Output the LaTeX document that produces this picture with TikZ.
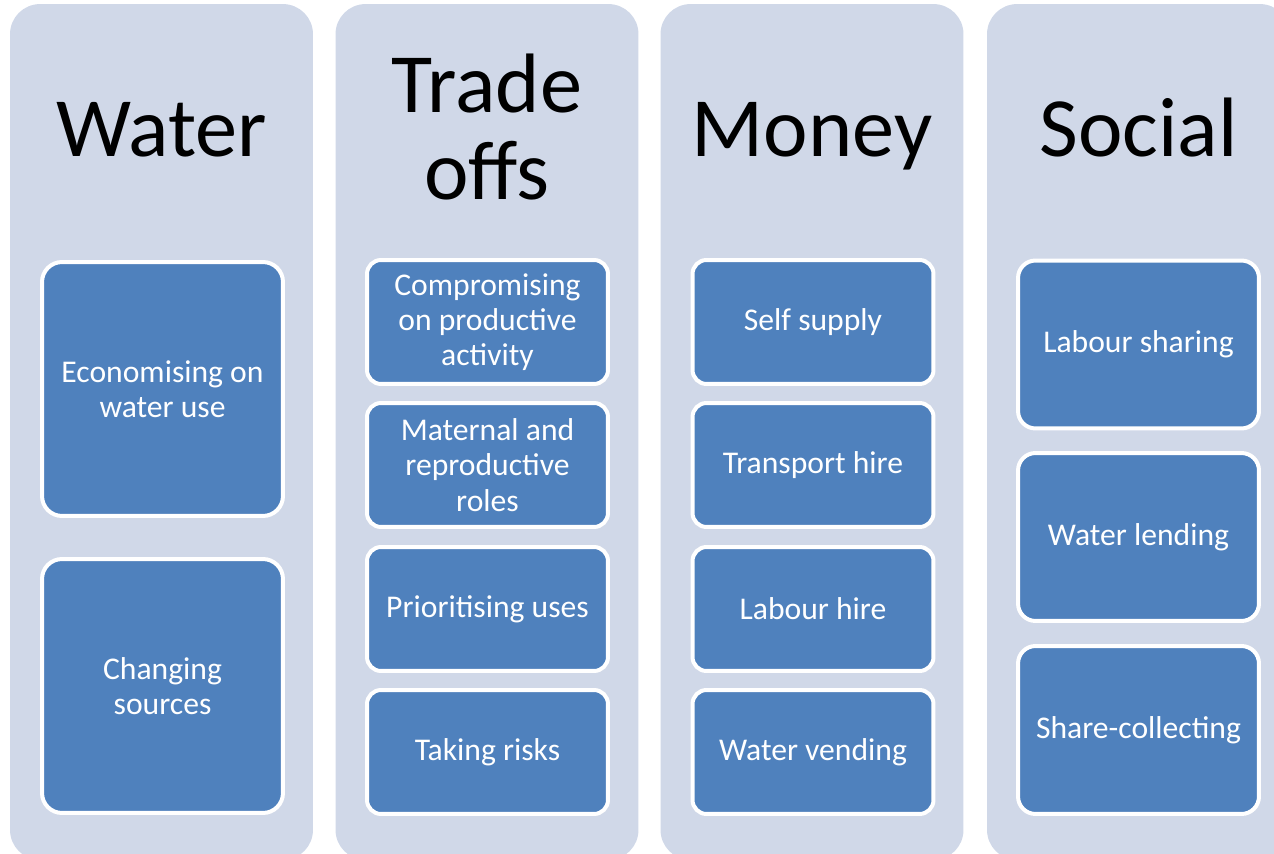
\documentclass[tikz,border=0pt]{standalone}
\usepackage{fontspec}
\setmainfont{Carlito}
\usepackage{tikz}
\usetikzlibrary{positioning}
\definecolor{colbg}{HTML}{D0D8E8}
\definecolor{boxblue}{HTML}{4F81BD}

\begin{document}
\begin{tikzpicture}[x=0.02cm,y=-0.02cm,
						column/.style={shape=rectangle,rounded corners=0.6cm,fill=colbg,inner sep=0pt,
							minimum width=6.06cm,minimum height=17.12cm},
						heading/.style={font=\fontsize{48}{50}\selectfont,align=center,text=black,inner sep=0pt},
						item/.style={shape=rectangle,rounded corners=0.28cm,draw=white,line width=0.08cm,fill=boxblue,
							text=white,inner sep=0pt,minimum width=4.82cm,align=center,font=\fontsize{18}{20}\selectfont}]
		\useasboundingbox (0,0) rectangle (1274,854);
		\node[column] (water)  at (161.5,432) {};
		\node[column] (trade)  at (487,432)   {};
		\node[column] (money)  at (812,432)   {};
		\node[column] (social) at (1138.5,432) {};

		\node[heading,anchor=base] (waterhead)  at (161.5,157) {Water};
		\node[heading] (tradehead)              at (487,127)   {Trade\\offs};
		\node[heading,anchor=base] (moneyhead)  at (812,157)   {Money};
		\node[heading,anchor=base] (socialhead) at (1138.5,157) {Social};

		\node[item,rounded corners=0.4cm,minimum height=5.08cm] (econ)    at (162.5,389) {Economising on\\water use};
		\node[item,rounded corners=0.4cm,minimum height=5.08cm] (sources) at (162.5,686) {Changing\\sources};

		\node[item,minimum height=2.48cm] (compr)   at (487.5,322) {Compromising\\on productive\\activity};
		\node[item,minimum height=2.48cm] (matern)  at (487.5,465) {Maternal and\\reproductive\\roles};
		\node[item,minimum height=2.48cm] (prior)   at (487.5,609) {Prioritising uses};
		\node[item,minimum height=2.48cm] (risks)   at (487.5,752) {Taking risks};

		\node[item,minimum height=2.48cm] (selfsup) at (813,322) {Self supply};
		\node[item,minimum height=2.48cm] (transp)  at (813,465) {Transport hire};
		\node[item,minimum height=2.48cm] (labhire) at (813,609) {Labour hire};
		\node[item,minimum height=2.48cm] (vending) at (813,752) {Water vending};

		\node[item,rounded corners=0.35cm,minimum height=3.36cm] (labshare) at (1138.5,344.5) {Labour sharing};
		\node[item,rounded corners=0.35cm,minimum height=3.36cm] (lending)  at (1138.5,537)   {Water lending};
		\node[item,rounded corners=0.35cm,minimum height=3.36cm] (sharecol) at (1138.5,730)   {Share-collecting};

	\end{tikzpicture}
\end{document}
